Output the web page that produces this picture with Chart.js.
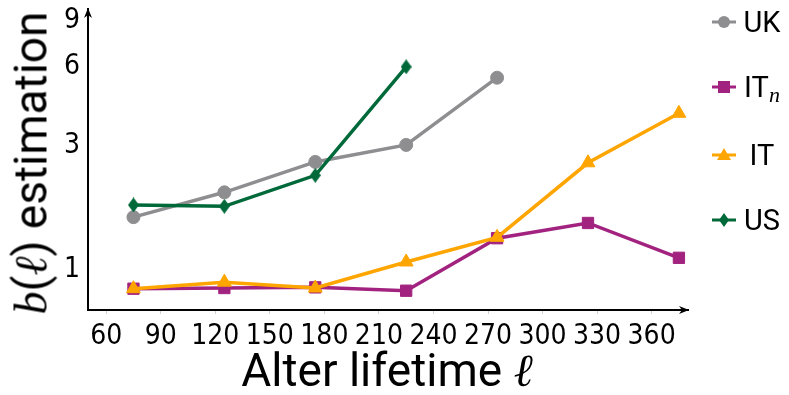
<!DOCTYPE html>
<html>
<head>
<meta charset="utf-8">
<script src="https://cdn.jsdelivr.net/npm/chart.js@4"></script>
<style>
  html, body { margin: 0; padding: 0; background: #fff; }
  #wrap { position: relative; width: 789px; height: 395px; overflow: hidden; }
  #chart { position: absolute; left: 0; top: 0; }
  .title { position: absolute; font-family: Roboto, "Open Sans", sans-serif; font-size: 46px; color: #000; white-space: nowrap; line-height: 1; }
  .math { font-family: "Liberation Serif", "DejaVu Serif", serif; font-style: italic; }
  #ytitle { left: 31px; top: 163px; transform: translate(-50%, -50%) rotate(-90deg); }
  #xtitle { left: 387px; top: 370px; transform: translate(-50%, -50%); }
  .lg { position: absolute; left: 708px; width: 81px; height: 30px; }
  .lg svg { position: absolute; left: 4px; top: 7px; }
  .lg span { position: absolute; left: 32px; width: 44px; top: 0; text-align: center; font-family: Roboto, "Open Sans", sans-serif; font-size: 29px; line-height: 30px; color: #000; }
  .lg sub { font-family: "Liberation Serif", "DejaVu Serif", serif; font-style: italic; font-size: 22px; vertical-align: -5px; line-height: 0; }
</style>
</head>
<body>
<div id="wrap">
  <canvas id="chart" width="789" height="395"></canvas>
  <div class="title" id="ytitle"><span class="math">b</span>(<span class="math">ℓ</span>) estimation</div>
  <div class="title" id="xtitle">Alter lifetime <span class="math">ℓ</span></div>
  <div id="legend"></div>
</div>
<script>
(function() {
    'use strict';

    // ========== DONNÉES ==========
    const lifetimes = [75, 125, 175, 225, 275, 325, 375];
    const xTicks = [60, 90, 120, 150, 180, 210, 240, 270, 300, 330, 360];
    const yTicks = [1, 3, 6, 9];

    const ukValues  = [1.59, 1.98, 2.59, 3.01, 5.45];
    const itnValues = [0.845, 0.85, 0.855, 0.83, 1.32, 1.51, 1.11];
    const itValues  = [0.845, 0.895, 0.85, 1.07, 1.33, 2.57, 3.98];
    const usValues  = [1.77, 1.75, 2.30, 6.0];

    const COLORS = {
        uk: '#8e8e90',
        itn: '#a2237f',
        it: '#ffa500',
        us: '#00693a'
    };

    const TICK_FONT = { family: '"Liberation Sans Narrow", "DejaVu Sans Condensed", Roboto, sans-serif', size: 28 };

    // losange fin (style matplotlib 'd')
    function thinDiamond(color, w, h) {
        const c = document.createElement('canvas');
        c.width = w; c.height = h;
        const ctx = c.getContext('2d');
        ctx.fillStyle = color;
        ctx.beginPath();
        ctx.moveTo(w / 2, 0);
        ctx.lineTo(w, h / 2);
        ctx.lineTo(w / 2, h);
        ctx.lineTo(0, h / 2);
        ctx.closePath();
        ctx.fill();
        return c;
    }

    const toPoints = (vals) => vals.map((v, i) => ({ x: lifetimes[i], y: v }));

    function series(label, vals, color, style, radius, order) {
        return {
            label: label,
            data: toPoints(vals),
            borderColor: color,
            backgroundColor: color,
            borderWidth: 3.5,
            pointStyle: style,
            pointRadius: radius,
            pointBorderWidth: 1,
            pointBackgroundColor: color,
            pointBorderColor: color,
            tension: 0,
            order: order
        };
    }

    // flèches au bout des axes
    const arrowPlugin = {
        id: 'axisArrows',
        afterDraw(chart) {
            const { ctx, chartArea: a } = chart;
            ctx.save();
            ctx.fillStyle = '#000';
            ctx.beginPath();
            ctx.moveTo(a.left, a.top - 1);
            ctx.lineTo(a.left - 4, a.top + 9);
            ctx.lineTo(a.left, a.top + 6);
            ctx.lineTo(a.left + 4, a.top + 9);
            ctx.closePath();
            ctx.fill();
            ctx.beginPath();
            ctx.moveTo(a.right + 1, a.bottom);
            ctx.lineTo(a.right - 9, a.bottom - 4);
            ctx.lineTo(a.right - 6, a.bottom);
            ctx.lineTo(a.right - 9, a.bottom + 4);
            ctx.closePath();
            ctx.fill();
            ctx.restore();
        }
    };

    new Chart(document.getElementById('chart'), {
        type: 'line',
        data: {
            datasets: [
                series('UK', ukValues, COLORS.uk, 'circle', 6.5, 4),
                series('ITn', itnValues, COLORS.itn, 'rect', 8, 3),
                series('IT', itValues, COLORS.it, 'triangle', 8, 2),
                series('US', usValues, COLORS.us, thinDiamond(COLORS.us, 11, 15), 7, 1)
            ]
        },
        options: {
            responsive: false,
            animation: false,
            layout: { padding: { left: 0, right: 101, top: 4, bottom: 0 } },
            plugins: { legend: { display: false }, tooltip: { enabled: false } },
            scales: {
                x: {
                    type: 'linear',
                    min: 50,
                    max: 380,
                    afterBuildTicks: (scale) => { scale.ticks = xTicks.map(v => ({ value: v })); },
                    afterFit: (scale) => { scale.height = 85; scale.paddingLeft = 0; scale.paddingRight = 0; },
                    grid: { drawOnChartArea: false, drawTicks: true, tickLength: 4, color: '#d0d0d0' },
                    border: { display: true, color: '#000', width: 2 },
                    ticks: { color: '#000', font: TICK_FONT, padding: 6, maxRotation: 0, autoSkip: false, callback: (v) => String(v) }
                },
                y: {
                    type: 'logarithmic',
                    min: 0.71,
                    max: 10,
                    afterBuildTicks: (scale) => { scale.ticks = yTicks.map(v => ({ value: v })); },
                    afterFit: (scale) => { scale.width = 88; scale.paddingTop = 0; scale.paddingBottom = 0; },
                    grid: { display: false, drawTicks: false },
                    border: { display: true, color: '#000', width: 2 },
                    ticks: { color: '#000', font: TICK_FONT, padding: 8, callback: (v) => String(v) }
                }
            }
        },
        plugins: [arrowPlugin]
    });

    // ========== LÉGENDE ==========
    const legendItems = [
        { text: 'UK', color: COLORS.uk, marker: 'circle', y: 22 },
        { text: 'IT<sub>n</sub>', color: COLORS.itn, marker: 'square', y: 87 },
        { text: 'IT', color: COLORS.it, marker: 'triangle', y: 155 },
        { text: 'US', color: COLORS.us, marker: 'diamond', y: 220 }
    ];
    const markers = {
        circle: (c) => `<circle cx="12" cy="8" r="6" fill="${c}"/>`,
        square: (c) => `<rect x="6" y="2" width="12" height="12" fill="${c}"/>`,
        triangle: (c) => `<polygon points="12,1 19,13 5,13" fill="${c}"/>`,
        diamond: (c) => `<polygon points="12,1 17,8 12,15 7,8" fill="${c}"/>`
    };
    const legend = document.getElementById('legend');
    legendItems.forEach(item => {
        const row = document.createElement('div');
        row.className = 'lg';
        row.style.top = (item.y - 15) + 'px';
        row.innerHTML = `<svg width="24" height="16"><line x1="0" y1="8" x2="24" y2="8" stroke="${item.color}" stroke-width="3"/>${markers[item.marker](item.color)}</svg><span>${item.text}</span>`;
        legend.appendChild(row);
    });
})();
</script>
</body>
</html>
